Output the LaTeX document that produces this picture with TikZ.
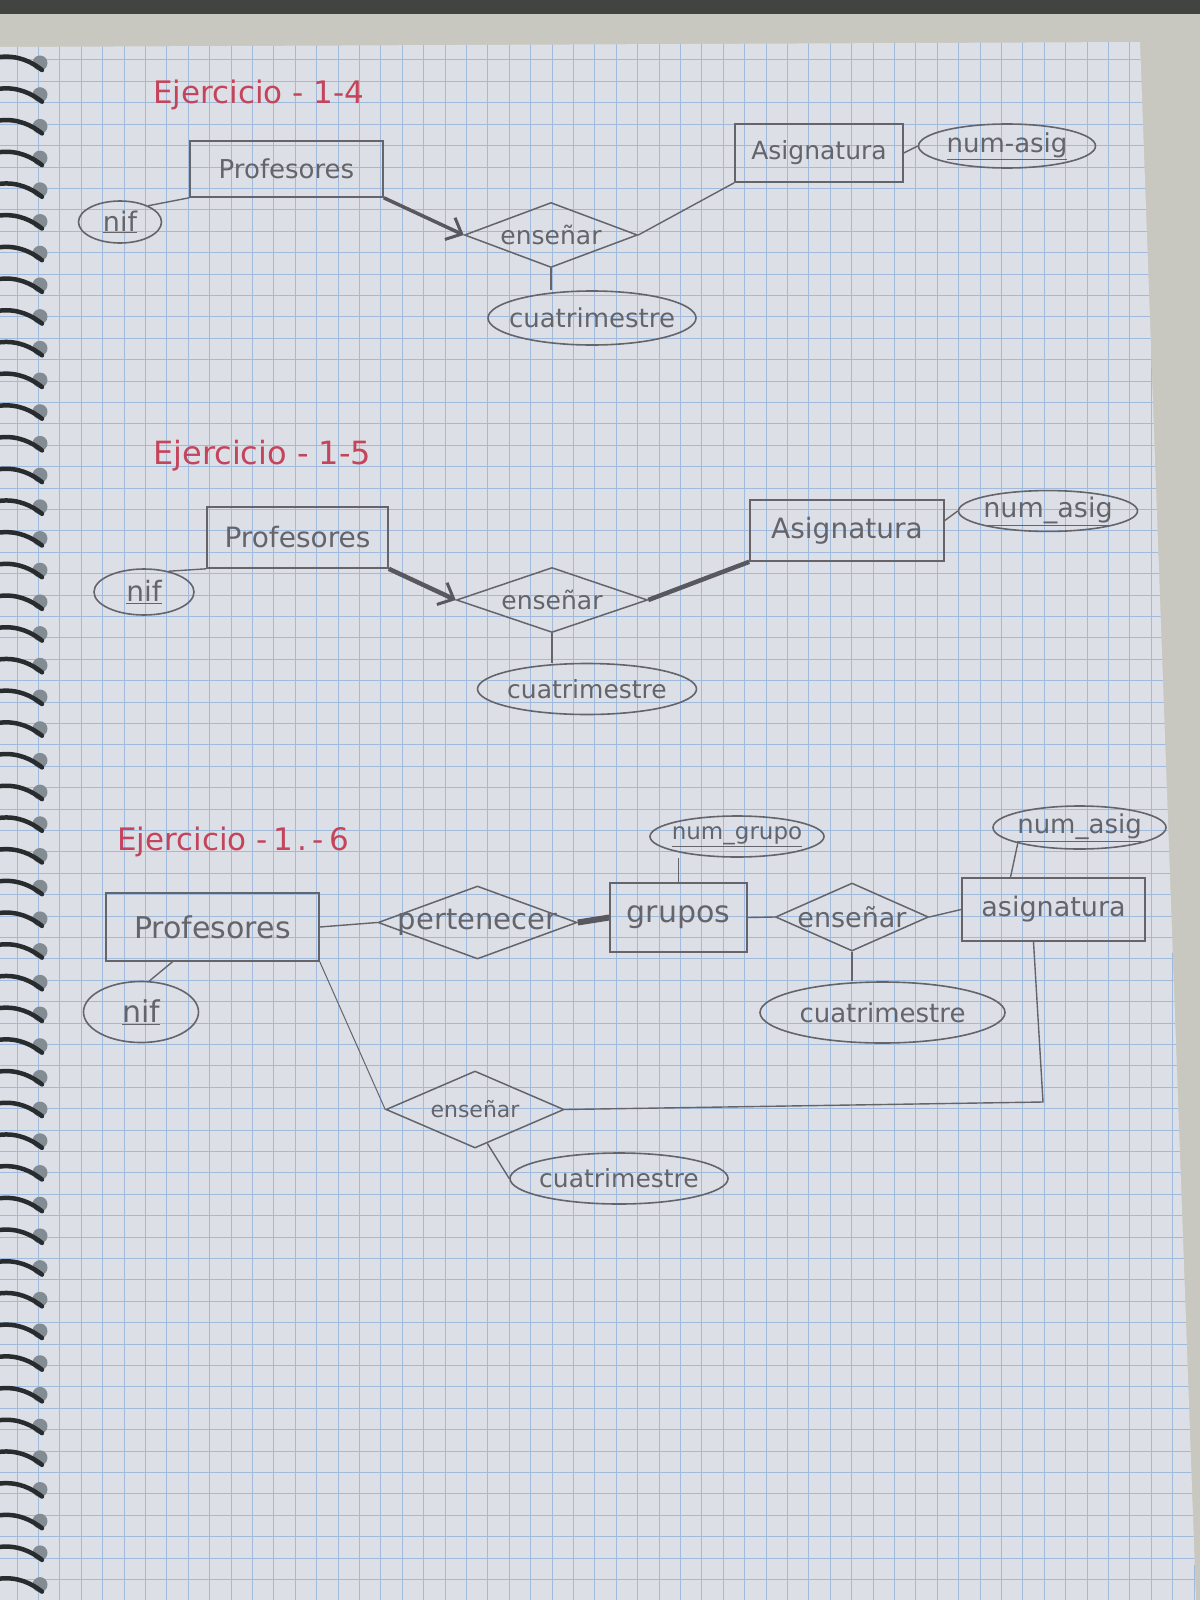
\documentclass[tikz,border=0pt]{standalone}
\usepackage{fontspec}
\setmainfont{DejaVu Sans}
\usetikzlibrary{shapes.geometric,arrows.meta}
\definecolor{pencil}{RGB}{100,100,106}
\definecolor{lead}{RGB}{88,88,94}
\definecolor{inkred}{RGB}{196,68,92}
\definecolor{paper}{RGB}{220,224,230}
\definecolor{gridblue}{RGB}{160,186,220}
\definecolor{desk}{RGB}{200,200,192}
\definecolor{deskdark}{RGB}{66,68,66}
\definecolor{wire}{RGB}{40,44,46}
\definecolor{hole}{RGB}{130,140,146}
\newcommand\fsz[1]{\fontsize{#1}{#1}\selectfont}
\newcommand\nbox[1]{\makebox[0pt]{#1}}
\begin{document}
\begin{tikzpicture}[x=1pt,y=-1pt,
  ent/.style={draw=pencil,line width=1.6pt,inner sep=0pt,text=pencil},
  rel/.style={diamond,draw=pencil,line width=1.5pt,inner sep=0pt,text=pencil},
  attr/.style={ellipse,draw=pencil,line width=1.6pt,inner sep=0pt,text=pencil},
  link/.style={draw=pencil,line width=1.4pt},
  heavy/.style={draw=lead,line width=4.5pt},
  barb/.style={-{Straight Barb[length=13pt,width=24pt,line width=3pt]}},
  titulo/.style={text=inkred,anchor=base west,inner sep=0pt}]

\useasboundingbox (0,0) rectangle (1200,1600);
% desk and paper
\fill[desk] (0,0) rectangle (1200,1600);
\fill[deskdark] (0,0) rectangle (1200,14);
\fill[paper] (0,47) -- (1140,42) -- (1196,1600) -- (0,1600) -- cycle;
\begin{scope}
  \clip (0,47) -- (1140,42) -- (1196,1600) -- (0,1600) -- cycle;
  \foreach \i in {0,...,56} \draw[gridblue,line width=1pt] ({17+21.4*\i},0) -- ++(0,1600);
  \foreach \j in {0,...,74} \draw[gridblue,line width=1pt] (0,{60+21.4*\j}) -- ++(1200,0);
\end{scope}
% spiral binding
\foreach \k in {0,...,48} {
  \fill[hole] (40,{63+31.7*\k}) circle (7.5pt);
  \draw[wire,line width=4.5pt,line cap=round] (0,{57+31.7*\k}) .. controls (18,{55+31.7*\k}) and (32,{62+31.7*\k}) .. (42,{70+31.7*\k});
}

% ---------- Ejercicio 1-4 ----------
\node[titulo,font=\fsz{31}] (t1) at (153,104) {Ejercicio - 1-4};
\node[ent,minimum width=193pt,minimum height=56pt,font=\fsz{26}] (p1) at (286.5,169) {\nbox{Profesores}};
\node[attr,minimum width=83pt,minimum height=42pt,font=\fsz{27}] (n1) at (120,222) {\nbox{\underline{nif}}};
\node[rel,minimum width=173pt,minimum height=65pt,font=\fsz{25}] (e1) at (551,235) {\nbox{enseñar}};
\node[ent,minimum width=168pt,minimum height=58pt,font=\fsz{25}] (a1) at (819,153) {\nbox{Asignatura}};
\node[attr,minimum width=177pt,minimum height=44pt,font=\fsz{26}] (k1) at (1007,146) {\nbox{\underline{num-asig}}};
\node[attr,minimum width=208pt,minimum height=54pt,font=\fsz{26}] (c1) at (592,318) {\nbox{cuatrimestre}};
\draw[link] (n1.30) -- (p1.south west);
\draw[heavy,line width=3.5pt,barb] (p1.south east) -- (e1.west);
\draw[link] (e1.east) -- (a1.south west);
\draw[link] (a1.east) -- (k1.west);
\draw[link] (e1.south) -- (e1.south |- c1.north);

% ---------- Ejercicio 1-5 ----------
\node[titulo,font=\fsz{32}] (t2) at (153,464) {Ejercicio - 1-5};
\node[ent,minimum width=181pt,minimum height=61pt,font=\fsz{28}] (p2) at (297.5,537.5) {\nbox{Profesores}};
\node[attr,minimum width=100pt,minimum height=46pt,font=\fsz{28}] (n2) at (144,592) {\nbox{\underline{nif}}};
\node[rel,minimum width=191pt,minimum height=65pt,font=\fsz{25}] (e2) at (552,600) {\nbox{enseñar}};
\node[ent,minimum width=194pt,minimum height=61pt,font=\fsz{28}] (a2) at (847,530.5) {\nbox{Asignatura}};
\node[attr,minimum width=179pt,minimum height=38pt,font=\fsz{27}] (k2) at (1048,511) {\nbox{\underline{num\_asig}}};
\node[attr,minimum width=219pt,minimum height=51pt,font=\fsz{25}] (c2) at (587,689) {\nbox{cuatrimestre}};
\draw[link] (n2.40) -- (p2.south west);
\draw[heavy,barb] (p2.south east) -- (e2.west);
\draw[heavy] (e2.east) -- (a2.south west);
\draw[link] ([yshift=10pt]a2.east) -- (k2.west);
\draw[link] (e2.south) -- (e2.south |- c2.north);

% ---------- Ejercicio 1-6 ----------
\node[titulo,font=\fsz{31}] (t3) at (117,850) {Ejercicio -\,1\,.\,-\,6};
\node[ent,minimum width=213pt,minimum height=68pt,font=\fsz{30}] (p3) at (212.5,927) {\nbox{Profesores}};
\node[attr,minimum width=115pt,minimum height=61pt,font=\fsz{30}] (n3) at (141,1012) {\nbox{\underline{nif}}};
\node[rel,minimum width=199pt,minimum height=73pt,font=\fsz{29}] (r3) at (477.5,922.5) {\nbox{pertenecer}};
\node[ent,minimum width=137pt,minimum height=69pt,font=\fsz{30}] (g3) at (678.5,917.5) {\nbox{grupos}};
\node[attr,minimum width=174pt,minimum height=41pt,font=\fsz{23}] (kg3) at (737,836.5) {\nbox{\underline{num\_grupo}}};
\node[rel,minimum width=153pt,minimum height=68pt,font=\fsz{27}] (e3) at (852,917) {\nbox{enseñar}};
\node[ent,minimum width=183pt,minimum height=63pt,font=\fsz{27}] (a3) at (1053.5,909.5) {\nbox{asignatura}};
\node[attr,minimum width=173pt,minimum height=43pt,font=\fsz{26}] (ka3) at (1079.5,827.5) {\nbox{\underline{num\_asig}}};
\node[attr,minimum width=245pt,minimum height=61pt,font=\fsz{26}] (c3a) at (882.5,1012.5) {\nbox{cuatrimestre}};
\node[rel,minimum width=178pt,minimum height=77pt,font=\fsz{22}] (e3b) at (475,1109.5) {\nbox{enseñar}};
\node[attr,minimum width=218pt,minimum height=51pt,font=\fsz{25}] (c3b) at (619,1178.5) {\nbox{cuatrimestre}};
\coordinate (crn) at (1043,1102);
\draw[link] ([xshift=-40pt]p3.south) -- (n3.75);
\draw[link] (p3.east) -- (r3.west);
\draw[heavy,line width=6pt] (r3.east) -- (g3.west);
\draw[link] (g3.north) -- (g3.north |- kg3.south);
\draw[link] (g3.east) -- (e3.west);
\draw[link] (e3.east) -- (a3.west);
\draw[link] ([xshift=-43pt]a3.north) -- (ka3.south west);
\draw[link] (e3.south) -- (e3.south |- c3a.north);
\draw[link,line width=1pt] (p3.south east) -- (e3b.west);
\draw[link] (e3b.east) -- (crn) -- ([xshift=-20pt]a3.south);
\draw[link] (e3b.-70) -- (c3b.west);
\end{tikzpicture}
\end{document}
